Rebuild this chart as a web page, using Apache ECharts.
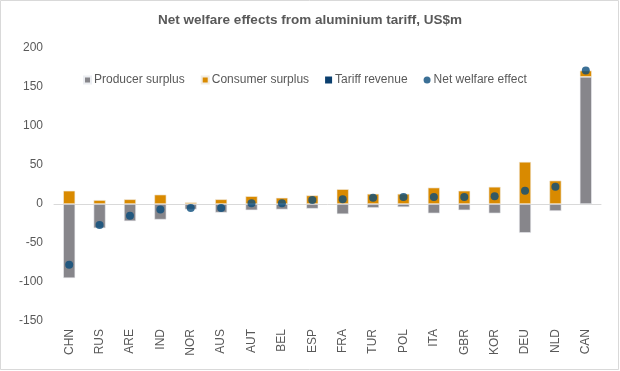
<!DOCTYPE html>
<html><head><meta charset="utf-8">
<script src="https://cdn.jsdelivr.net/npm/echarts@6/dist/echarts.min.js"></script>
<style>html,body{margin:0;padding:0;background:#fff}#c{width:620px;height:371px}</style>
</head><body><div id="c"></div>
<script>
var categories = ['CHN','RUS','ARE','IND','NOR','AUS','AUT','BEL','ESP','FRA','TUR','POL','ITA','GBR','KOR','DEU','NLD','CAN'];
var producerSurplus = [-95,-31,-22,-20,-7,-11,-8,-7,-6,-13,-5,-4,-12,-8,-12,-37,-9,163];
var consumerSurplus = [17,5,6,12,2,6,10,8,11,19,13,13,21,17,22,54,30,8];
var tariffRevenue = [0,0,0,0,0,0,0,0,0,0,0,0,0,0,0,0,0,0];
var netWelfare = [-78,-27,-15,-7,-5,-5,1,1,5,6,8,9,9,9,10,17,22,171];
var yTicks = [-150,-100,-50,0,50,100,150,200];

var chart = echarts.init(document.getElementById('c'), null, {renderer:'canvas'});
var font = 'Liberation Sans, Arial, sans-serif';
chart.setOption({
  animation:false,
  backgroundColor:'#fff',
  title:{text:'Net welfare effects from aluminium tariff, US$m',left:'center',top:8,
    textStyle:{fontFamily:font,fontSize:13.5,fontWeight:'bold',color:'#595959'}},
  legend:{top:69,left:78,itemWidth:7,itemHeight:7,itemGap:16,
    textStyle:{fontFamily:font,fontSize:12,color:'#595959',padding:[0,0,0,-2]},
    data:[{name:'Producer surplus',icon:'rect'},{name:'Consumer surplus',icon:'rect'},{name:'Tariff revenue',icon:'rect'},{name:'Net welfare effect',icon:'circle'}]},
  grid:{left:54,right:19,top:48,bottom:50,containLabel:false},
  xAxis:{type:'category',data:categories,
    axisLine:{show:true,onZero:true,lineStyle:{color:'#d9d9d9',width:1}},
    axisTick:{show:false},
    axisLabel:{rotate:90,fontFamily:font,fontSize:12,color:'#595959',margin:8,interval:0},
    position:'bottom'},
  yAxis:{type:'value',min:-150,max:200,interval:50,
    axisLine:{show:false},axisTick:{show:false},splitLine:{show:false},
    axisLabel:{fontFamily:font,fontSize:12,color:'#595959',margin:11,
      formatter:function(v){return yTicks.indexOf(v)>=0?String(v):'';}}},
  series:[
    {name:'Producer surplus',type:'bar',stack:'s',data:producerSurplus,barWidth:12,
      itemStyle:{color:'#87868b',borderColor:'#eceef2',borderWidth:0.6}},
    {name:'Consumer surplus',type:'bar',stack:'s',data:consumerSurplus,barWidth:12,
      itemStyle:{color:'#d98a00',borderColor:'#f2ece2',borderWidth:0.6}},
    {name:'Tariff revenue',type:'bar',stack:'s',data:tariffRevenue,barWidth:12,
      itemStyle:{color:'#0b3f6e'}},
    {name:'Net welfare effect',type:'scatter',data:netWelfare,symbolSize:8,z:5,
      itemStyle:{color:'#0a4c7c'}}
  ],
  graphic:[{type:'rect',shape:{x:0.5,y:0.5,width:618,height:369},style:{fill:'none',stroke:'#d9d9d9',lineWidth:1},silent:true}]
});
</script></body></html>
